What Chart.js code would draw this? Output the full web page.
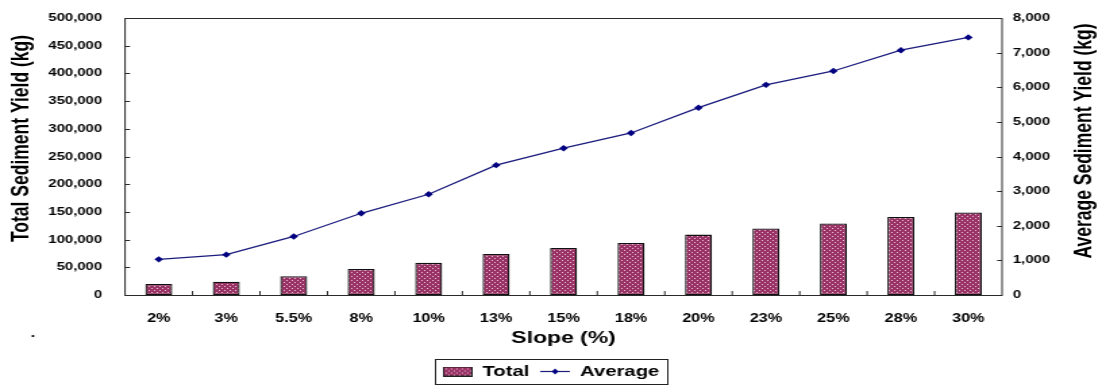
<!DOCTYPE html>
<html>
<head>
<meta charset="utf-8">
<title>Sediment Yield by Slope</title>
<script src="https://cdn.jsdelivr.net/npm/chart.js@4.4.1/dist/chart.umd.min.js"></script>
<style>
  html, body { margin: 0; padding: 0; background: #fff; overflow: hidden; }
  #wrap { width: 1102px; height: 386px; overflow: hidden; background: #fff; }
  #c { display: block; transform-origin: 0 0; }
</style>
</head>
<body>
<div id="wrap"><canvas id="c" width="816" height="386"></canvas></div>
<script>
// Slope classes and yields
const slopes = ['2%', '3%', '5.5%', '8%', '10%', '13%', '15%', '18%', '20%', '23%', '25%', '28%', '30%'];
const totalYield = [20000, 24000, 34000, 47000, 58000, 74000, 85000, 94000, 109000, 120000, 129000, 141000, 149000];
const averageYield = [1030, 1165, 1690, 2360, 2910, 3750, 4240, 4680, 5410, 6070, 6470, 7070, 7440];

// Axis tick labels
const totalTicks = ['0', '50,000', '100,000', '150,000', '200,000', '250,000', '300,000', '350,000', '400,000', '450,000', '500,000'];
const averageTicks = ['0', '1,000', '2,000', '3,000', '4,000', '5,000', '6,000', '7,000', '8,000'];

// Text
const xTitle = 'Slope (%)';
const leftTitle = 'Total Sediment Yield (kg)';
const rightTitle = 'Average Sediment Yield (kg)';
const seriesNames = ['Total', 'Average'];

// The chart is laid out on a narrower canvas and widened horizontally,
// giving the broad, squat lettering of the original figure.
const PAGE_W = 1102;
const canvas = document.getElementById('c');
const STRETCH = PAGE_W / canvas.width;
canvas.style.transform = 'scaleX(' + STRETCH + ')';
const ctx0 = canvas.getContext('2d');

const FAMILY = "'Liberation Sans', Arial, Helvetica, sans-serif";
const BAR_FILL = '#993366';
const DOT = '#eec0d8';
const LINE = '#1c1c7e';
const MARK = '#000080';

// Dotted fill for the bars
function dotTile() {
  const t = document.createElement('canvas');
  t.width = 4; t.height = 4;
  const g = t.getContext('2d');
  g.fillStyle = BAR_FILL; g.fillRect(0, 0, 4, 4);
  g.fillStyle = DOT;
  g.fillRect(0, 0, 1, 1);
  g.fillRect(2, 2, 1, 1);
  return t;
}
const barPattern = ctx0.createPattern(dotTile(), 'repeat');

// Legend icons
function totalIcon() {
  const c = document.createElement('canvas');
  c.width = 22; c.height = 10;
  const g = c.getContext('2d');
  g.fillStyle = g.createPattern(dotTile(), 'repeat');
  g.fillRect(0, 0, 22, 10);
  g.strokeStyle = '#222'; g.lineWidth = 1;
  g.strokeRect(0.5, 0.5, 21, 9);
  return c;
}
function averageIcon() {
  const c = document.createElement('canvas');
  c.width = 22; c.height = 9;
  const g = c.getContext('2d');
  g.strokeStyle = LINE; g.lineWidth = 1.2;
  g.beginPath(); g.moveTo(0, 4.5); g.lineTo(22, 4.5); g.stroke();
  g.fillStyle = MARK;
  g.beginPath(); g.moveTo(11, 1.5); g.lineTo(13.5, 4.5); g.lineTo(11, 7.5); g.lineTo(8.5, 4.5); g.closePath(); g.fill();
  return c;
}
const legendIcons = [totalIcon(), averageIcon()];

// Plot frame, inward tick marks, rotated axis titles and legend border
const decorations = {
  id: 'decorations',
  afterDatasetsDraw(chart) {
    const { ctx, chartArea: a, scales } = chart;
    const tx = 5 / STRETCH;
    ctx.save();
    ctx.strokeStyle = '#2a2a2a';
    ctx.lineWidth = 1;
    ctx.strokeRect(a.left, Math.round(a.top) + 0.5, a.right - a.left, Math.round(a.bottom) - Math.round(a.top));
    ctx.beginPath();
    const y = scales.y, y1 = scales.y1, x = scales.x;
    for (let i = 1; i < totalTicks.length - 1; i++) {
      const p = Math.round(y.getPixelForValue(i * 50000)) + 0.5;
      ctx.moveTo(a.left, p); ctx.lineTo(a.left + tx, p);
    }
    for (let i = 1; i < averageTicks.length - 1; i++) {
      const p = Math.round(y1.getPixelForValue(i * 1000)) + 0.5;
      ctx.moveTo(a.right, p); ctx.lineTo(a.right - tx, p);
    }
    for (let i = 1; i < slopes.length; i++) {
      const p = x.getPixelForValue(i - 0.5);
      ctx.moveTo(p, Math.round(a.bottom)); ctx.lineTo(p, Math.round(a.bottom) - 4);
    }
    ctx.stroke();
    ctx.restore();
  },
  afterDraw(chart) {
    const { ctx } = chart;
    ctx.save();
    ctx.fillStyle = '#000';
    ctx.font = 'bold 17.5px ' + FAMILY;
    ctx.textAlign = 'center';
    ctx.textBaseline = 'middle';
    ctx.save(); ctx.translate(16.3, 138.5); ctx.rotate(-Math.PI / 2); ctx.fillText(leftTitle, 0, 0); ctx.restore();
    ctx.save(); ctx.translate(803.4, 141); ctx.rotate(-Math.PI / 2); ctx.fillText(rightTitle, 0, 0); ctx.restore();
    ctx.font = 'bold 12px ' + FAMILY;
    ctx.textBaseline = 'alphabetic';
    ctx.fillText('.', 24.4, 337);

    const hb = chart.legend.legendHitBoxes;
    if (hb && hb.length) {
      const l = hb[0].left - 6;
      const r = hb[hb.length - 1].left + hb[hb.length - 1].width + 6;
      const t = hb[0].top - 5;
      const h = hb[0].height + 10;
      ctx.strokeStyle = '#222';
      ctx.lineWidth = 1;
      ctx.strokeRect(Math.round(l) + 0.5, Math.round(t) + 0.5, Math.round(r - l), Math.round(h));
    }
    ctx.restore();
  }
};

// Fixed axis widths; vertical label overhang kept small so the plot top sits at the layout padding
function fitLeft(s) { s.width = 92.6; s.paddingTop = 6; s.paddingBottom = 6; }
function fitRight(s) { s.width = 74; s.paddingTop = 6; s.paddingBottom = 6; }

new Chart(canvas, {
  data: {
    labels: slopes,
    datasets: [
      {
        type: 'line',
        label: seriesNames[1],
        data: averageYield,
        yAxisID: 'y1',
        order: 0,
        borderColor: LINE,
        borderWidth: 1.3,
        pointStyle: 'rectRot',
        pointRadius: 3.2,
        pointBackgroundColor: MARK,
        pointBorderColor: MARK,
        pointBorderWidth: 0,
        tension: 0,
        fill: false
      },
      {
        type: 'bar',
        label: seriesNames[0],
        data: totalYield,
        yAxisID: 'y',
        order: 1,
        backgroundColor: barPattern,
        borderColor: '#111',
        borderWidth: 1.3,
        borderSkipped: false,
        categoryPercentage: 1.0,
        barPercentage: 0.4
      }
    ]
  },
  options: {
    responsive: false,
    devicePixelRatio: 1,
    animation: false,
    events: [],
    layout: { padding: { top: 18, right: 0, bottom: -3, left: 0 } },
    scales: {
      x: {
        type: 'category',
        offset: true,
        grid: { display: false, drawTicks: false, offset: true },
        border: { display: false },
        ticks: {
          color: '#000',
          padding: 16,
          maxRotation: 0,
          autoSkip: false,
          font: { family: FAMILY, size: 12, weight: 'bold' }
        },
        title: {
          display: true,
          text: xTitle,
          color: '#000',
          padding: { top: 0, bottom: 7 },
          font: { family: FAMILY, size: 17, weight: 'bold' }
        },
        afterFit(s) { s.height = 61; }
      },
      y: {
        type: 'linear',
        position: 'left',
        min: 0,
        max: 500000,
        grid: { display: false, drawTicks: false },
        border: { display: false },
        ticks: {
          stepSize: 50000,
          padding: 17,
          color: '#000',
          font: { family: FAMILY, size: 11, weight: 'bold' },
          callback: (v, i) => totalTicks[i]
        },
        afterFit: fitLeft
      },
      y1: {
        type: 'linear',
        position: 'right',
        min: 0,
        max: 8000,
        grid: { display: false, drawTicks: false },
        border: { display: false },
        ticks: {
          stepSize: 1000,
          padding: 8,
          color: '#000',
          font: { family: FAMILY, size: 11, weight: 'bold' },
          callback: (v, i) => averageTicks[i]
        },
        afterFit: fitRight
      }
    },
    plugins: {
      tooltip: { enabled: false },
      legend: {
        position: 'bottom',
        align: 'center',
        labels: {
          usePointStyle: true,
          pointStyleWidth: 22,
          padding: 8,
          color: '#000',
          font: { family: FAMILY, size: 15, weight: 'bold' },
          generateLabels: () => seriesNames.map((name, i) => ({
            text: name,
            pointStyle: legendIcons[i],
            fillStyle: 'transparent',
            strokeStyle: 'transparent',
            lineWidth: 0,
            fontColor: '#000',
            hidden: false,
            datasetIndex: i === 0 ? 1 : 0
          }))
        }
      }
    }
  },
  plugins: [decorations]
});
</script>
</body>
</html>
